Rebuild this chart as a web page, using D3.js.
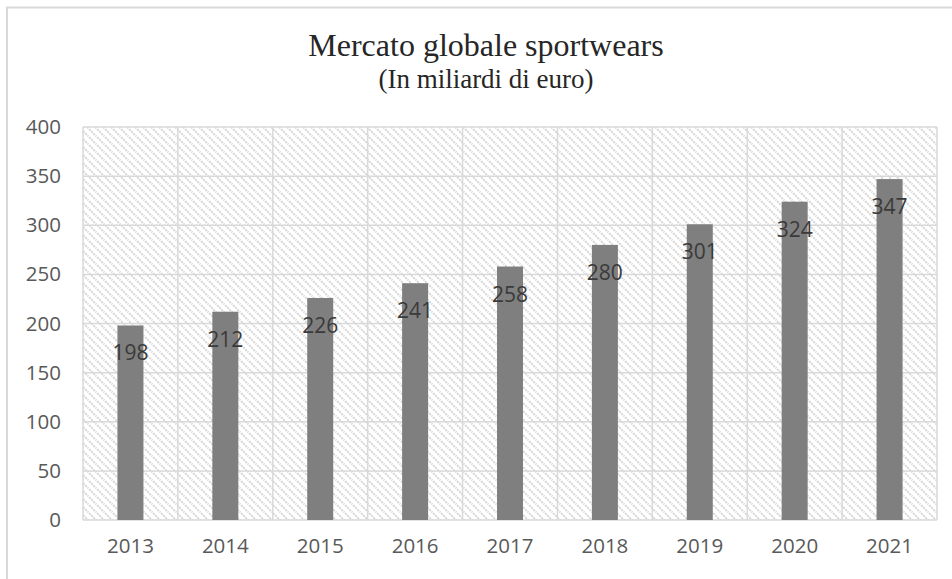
<!DOCTYPE html>
<html><head><meta charset="utf-8">
<script src="https://cdn.jsdelivr.net/npm/d3@7"></script>
<style>html,body{margin:0;padding:0;background:#fff;}svg{display:block;}</style>
</head><body>
<script>
const years = ["2013","2014","2015","2016","2017","2018","2019","2020","2021"];
const values = [198,212,226,241,258,280,301,324,347];
const yTicks = [0,50,100,150,200,250,300,350,400];
const titleText = "Mercato globale sportwears";
const subtitleText = "(In miliardi di euro)";

const W = 952, H = 579;
const m = {left:83, right:937, top:127, bottom:520};
const svg = d3.select("body").append("svg").attr("width",W).attr("height",H);

const defs = svg.append("defs");
const P = 8;
const pat = defs.append("pattern").attr("id","hatch").attr("patternUnits","userSpaceOnUse")
  .attr("width",P).attr("height",P);
pat.append("rect").attr("width",P).attr("height",P).attr("fill","#fff");
pat.append("path").attr("d",`M-1,-1 L${P+1},${P+1} M-1,${P-1} L1,${P+1} M${P-1},-1 L${P+1},1`)
  .attr("stroke","#d4d4d4").attr("stroke-width",1.8).attr("stroke-dasharray","2,1");

// chart border
svg.append("path").attr("d",`M7,${H} L7,7.5 L${W},7.5`).attr("fill","none")
  .attr("stroke","#d9d9d9").attr("stroke-width",2);

const x = d3.scaleBand().domain(years).range([m.left,m.right]).paddingInner(0).paddingOuter(0);
const y = d3.scaleLinear().domain([0,400]).range([m.bottom,m.top]);

svg.append("rect").attr("x",m.left).attr("y",m.top).attr("width",m.right-m.left)
  .attr("height",m.bottom-m.top).attr("fill","url(#hatch)");

// horizontal gridlines
svg.append("g").selectAll("line").data(yTicks).join("line")
  .attr("x1",m.left).attr("x2",m.right).attr("y1",d=>y(d)).attr("y2",d=>y(d))
  .attr("stroke","#d9d9d9").attr("stroke-width",1.5);
// vertical gridlines
const vx = years.map(d=>x(d)).concat([m.right]);
svg.append("g").selectAll("line").data(vx).join("line")
  .attr("x1",d=>d).attr("x2",d=>d).attr("y1",m.top).attr("y2",m.bottom)
  .attr("stroke","#d9d9d9").attr("stroke-width",1.5);

const bw = 26;
svg.append("g").selectAll("rect").data(values).join("rect")
  .attr("x",(d,i)=>x(years[i])+x.bandwidth()/2-bw/2)
  .attr("y",d=>y(d)).attr("width",bw).attr("height",d=>y(0)-y(d))
  .attr("fill","#7f7f7f");

svg.append("g").selectAll("text").data(values).join("text")
  .attr("x",(d,i)=>x(years[i])+x.bandwidth()/2)
  .attr("y",d=>y(d)+35)
  .attr("text-anchor","middle").attr("font-family","'Open Sans', sans-serif")
  .attr("font-size",21).attr("fill","#3a3a3a").text(d=>d);

// y axis labels
const yAxis = d3.axisLeft(y).tickValues(yTicks).tickSize(0).tickPadding(22);
const ga = svg.append("g").attr("transform",`translate(${m.left},0)`).call(yAxis);
ga.select(".domain").remove();
ga.selectAll("text").attr("font-family","'Open Sans', sans-serif").attr("font-size",20.5)
  .attr("fill","#595959");

// x axis labels
const xAxis = d3.axisBottom(x).tickSize(0).tickPadding(18);
const gx = svg.append("g").attr("transform",`translate(0,${m.bottom})`).call(xAxis);
gx.select(".domain").remove();
gx.selectAll("text").attr("font-family","'Open Sans', sans-serif").attr("font-size",20.5)
  .attr("fill","#595959");

svg.append("text").attr("x",486).attr("y",56).attr("text-anchor","middle")
  .attr("font-family","'Liberation Serif', 'Times New Roman', serif").attr("font-size",32)
  .attr("fill","#262626").text(titleText);
svg.append("text").attr("x",486).attr("y",88).attr("text-anchor","middle")
  .attr("font-family","'Liberation Serif', 'Times New Roman', serif").attr("font-size",27)
  .attr("fill","#262626").text(subtitleText);
</script>
</body></html>
